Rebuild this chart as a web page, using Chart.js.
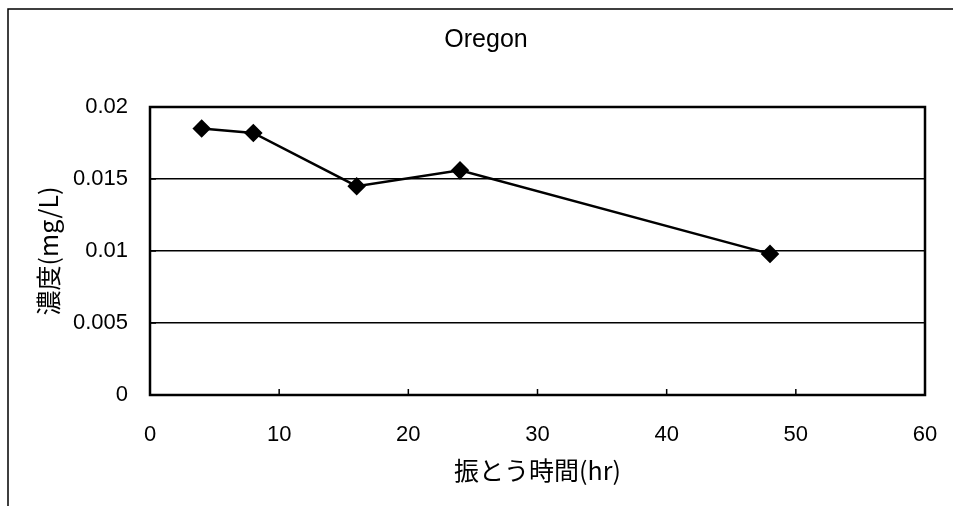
<!DOCTYPE html>
<html>
<head>
<meta charset="utf-8">
<script src="https://cdn.jsdelivr.net/npm/chart.js@4.4.0/dist/chart.umd.min.js"></script>
<style>
html,body{margin:0;padding:0;background:#fff;}
#wrap{width:953px;height:506px;position:relative;}
</style>
</head>
<body>
<div id="wrap"><canvas id="c" width="953" height="506"></canvas></div>
<script>
const chartTitle = "Oregon";
const xTitle = "振とう時間(hr)";
const yTitle = "濃度(mg/L)";
const shakeHours = [4, 8, 16, 24, 48];
const concentration = [0.0185, 0.0182, 0.0145, 0.0156, 0.0098];
const xTickValues = [0, 10, 20, 30, 40, 50, 60];
const yTickValues = [0, 0.005, 0.01, 0.015, 0.02];
const yTickText = ["0", "0.005", "0.01", "0.015", "0.02"];

const FONT = "'Liberation Sans', 'Noto Sans CJK JP', sans-serif";
const CJK = "'Noto Sans CJK JP', sans-serif";

const framePlugin = {
  id: 'frame',
  beforeDraw(chart) {
    const ctx = chart.ctx;
    ctx.save();
    ctx.fillStyle = '#fff';
    ctx.fillRect(0, 0, chart.width, chart.height);
    ctx.strokeStyle = '#000';
    ctx.lineWidth = 1.5;
    ctx.beginPath();
    ctx.moveTo(8, chart.height);
    ctx.lineTo(8, 9);
    ctx.lineTo(chart.width, 9);
    ctx.stroke();
    ctx.restore();
  },
  beforeDatasetsDraw(chart) {
    const ctx = chart.ctx;
    const a = chart.chartArea;
    const xs = chart.scales.x, ys = chart.scales.y;
    ctx.save();
    ctx.strokeStyle = '#000';
    ctx.lineWidth = 2.5;
    ctx.strokeRect(a.left, a.top, a.right - a.left, a.bottom - a.top);
    ctx.lineWidth = 1.5;
    ctx.beginPath();
    xs.ticks.forEach(t => {
      const px = xs.getPixelForValue(t.value);
      ctx.moveTo(px, a.bottom);
      ctx.lineTo(px, a.bottom - 6);
    });
    ys.ticks.forEach(t => {
      const py = ys.getPixelForValue(t.value);
      ctx.moveTo(a.left, py);
      ctx.lineTo(a.left + 6, py);
    });
    ctx.stroke();
    ctx.restore();
  }
};

new Chart(document.getElementById('c'), {
  type: 'scatter',
  data: {
    datasets: [{
      label: chartTitle,
      data: shakeHours.map((h, i) => ({x: h, y: concentration[i]})),
      showLine: true,
      borderColor: '#000',
      backgroundColor: '#000',
      borderWidth: 2.5,
      pointStyle: 'rectRot',
      pointRadius: 7.5,
      pointHoverRadius: 7.5,
      tension: 0
    }]
  },
  options: {
    responsive: false,
    animation: false,
    devicePixelRatio: 1,
    layout: {padding: {left: 19, right: 0, top: 0, bottom: 0}},
    plugins: {
      legend: {display: false},
      tooltip: {enabled: false},
      title: {
        display: true,
        text: chartTitle,
        color: '#000',
        font: {family: FONT, size: 25, weight: 'normal', lineHeight: 1.2},
        padding: {top: 25, bottom: 52}
      }
    },
    scales: {
      x: {
        type: 'linear',
        min: 0, max: 60,
        afterBuildTicks(scale) { scale.ticks = xTickValues.map(v => ({value: v})); },
        afterFit(scale) { scale.height = 111; scale.paddingRight = 28; },
        grid: {display: false, drawTicks: false},
        border: {display: false},
        ticks: {
          color: '#000',
          padding: 27,
          maxRotation: 0,
          font: {family: FONT, size: 22},
          callback: v => String(v)
        },
        title: {
          display: true,
          text: xTitle,
          color: '#000',
          font: {family: CJK, size: 25, lineHeight: 1.2},
          padding: {top: 4, bottom: 21}
        }
      },
      y: {
        type: 'linear',
        min: 0, max: 0.02,
        afterBuildTicks(scale) { scale.ticks = yTickValues.map(v => ({value: v})); },
        afterFit(scale) { scale.width = 131; },
        grid: {color: '#000', lineWidth: 1.5, drawTicks: false},
        border: {display: false},
        ticks: {
          color: '#000',
          padding: 22,
          font: {family: FONT, size: 22},
          callback: (v, i) => yTickText[i]
        },
        title: {
          display: true,
          text: yTitle,
          color: '#000',
          font: {family: CJK, size: 25, lineHeight: 1.2},
          padding: {top: 14, bottom: 0}
        }
      }
    }
  },
  plugins: [framePlugin]
});
</script>
</body>
</html>
